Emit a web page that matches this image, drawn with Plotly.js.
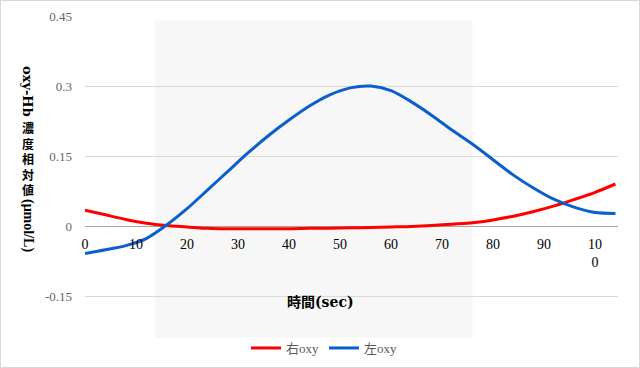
<!DOCTYPE html>
<html><head><meta charset="utf-8">
<script src="https://cdn.plot.ly/plotly-3.0.1.min.js"></script>
<style>
body{margin:0;background:#fff;}
#wrap{position:relative;width:640px;height:368px;}
#frame{position:absolute;left:0;top:0;width:640px;height:368px;box-sizing:border-box;border:1px solid #d9d9d9;pointer-events:none;}
</style>
</head><body>
<div id="wrap"><div id="chart" style="width:640px;height:368px;"></div><div id="frame"></div></div>
<script>
// ---- data ----
const time = [0,4,8,12,16,20,24,28,32,36,40,44,48,52,56,60,64,68,72,76,80,84,88,92,96,100,104];
const rightOxy = [0.034,0.024,0.014,0.006,0.001,-0.002,-0.005,-0.006,-0.006,-0.006,-0.006,-0.005,-0.005,-0.004,-0.003,-0.002,-0.001,0.001,0.004,0.007,0.013,0.021,0.031,0.043,0.057,0.072,0.090];
const leftOxy  = [-0.059,-0.051,-0.042,-0.027,0.002,0.037,0.077,0.117,0.157,0.194,0.227,0.257,0.281,0.296,0.300,0.290,0.266,0.237,0.205,0.175,0.142,0.109,0.081,0.057,0.040,0.029,0.027];
const seriesNames = ['右oxy','左oxy'];
const xTickVals = [0,10,20,30,40,50,60,70,80,90,100];
const xTickText = ['0','10','20','30','40','50','60','70','80','90','10<br>0'];
const yTickVals = [-0.15,0,0.15,0.3,0.45];
const yTickText = ['-0.15','0','0.15','0.3','0.45'];
const shadedPeriod = [13.7, 76];
const xRange = [0, 104.5];
const yRange = [-0.24, 0.45];
const xTitle = '時間(sec)';
const yTitleLatinTop = 'oxy-Hb';
const yTitleCJK = ['濃', '度', '相', '対', '値'];
const yTitleLatinBottom = '(μmol/L)';

// ---- layout helpers ----
const W = 640, H = 368;
const M = {l:85, r:22, t:16, b:30, autoexpand: false};
const PW = W - M.l - M.r, PH = H - M.t - M.b;
const px = x => (x - M.l) / PW;
const py = y => (H - M.b - y) / PH;

const serif = '"Liberation Serif", "DejaVu Serif", "Noto Sans CJK JP", serif';
const cjk = '"Noto Sans CJK JP", sans-serif';

const traces = [
  {x: time, y: rightOxy, name: seriesNames[0], type: 'scatter', mode: 'lines',
   line: {color: '#ff0000', width: 3, shape: 'spline', smoothing: 0.8}},
  {x: time, y: leftOxy, name: seriesNames[1], type: 'scatter', mode: 'lines',
   line: {color: '#0b5fcc', width: 3, shape: 'spline', smoothing: 0.8}}
];

const titleX = px(28);
const annotations = [
  {text: '<b>' + yTitleLatinTop + '</b>', xref: 'paper', yref: 'paper', x: titleX, y: py(91),
   xanchor: 'center', yanchor: 'middle', showarrow: false, textangle: 90, borderpad: 0,
   font: {family: '"DejaVu Serif", serif', size: 13, color: '#000'}},
  {text: '<b>' + yTitleCJK.join('<br>') + '</b>', xref: 'paper', yref: 'paper', x: titleX, y: py(158),
   xanchor: 'center', yanchor: 'middle', showarrow: false, borderpad: 0,
   font: {family: cjk, size: 12, color: '#000'}},
  {text: '<b>' + yTitleLatinBottom + '</b>', xref: 'paper', yref: 'paper', x: titleX, y: py(225),
   xanchor: 'center', yanchor: 'middle', showarrow: false, textangle: 90, borderpad: 0,
   font: {family: '"Liberation Serif", serif', size: 14, color: '#000'}},
  {text: '<b>' + xTitle + '</b>', xref: 'paper', yref: 'paper',
   x: px(320), y: py(302), xanchor: 'center', yanchor: 'middle', showarrow: false,
   font: {family: '"DejaVu Serif", "Noto Sans CJK JP", serif', size: 14, color: '#000'}}
];

const zeroPos = (0 - yRange[0]) / (yRange[1] - yRange[0]);

const layout = {
  width: W, height: H,
  margin: M,
  paper_bgcolor: '#ffffff', plot_bgcolor: 'rgba(0,0,0,0)',
  showlegend: true,
  legend: {orientation: 'h', x: px(324), xanchor: 'center', y: py(348), yanchor: 'middle',
           font: {family: serif, size: 13, color: '#595959'}, bgcolor: 'rgba(0,0,0,0)', traceorder: 'normal'},
  xaxis: {
    range: xRange, tickvals: xTickVals, ticktext: xTickText,
    anchor: 'free', position: zeroPos,
    showgrid: false, zeroline: false, showline: false, ticks: '',
    ticklabelstandoff: 8,
    tickfont: {family: serif, size: 14, color: '#000'}
  },
  yaxis: {
    range: yRange, tickvals: yTickVals, ticktext: yTickText,
    showgrid: true, gridcolor: '#d9d9d9', gridwidth: 1,
    zeroline: true, zerolinecolor: '#a6a6a6', zerolinewidth: 1,
    showline: false, ticks: '', ticklabelstandoff: 12,
    tickfont: {family: serif, size: 13, color: '#666666'}
  },
  shapes: [{
    type: 'rect', xref: 'x', yref: 'y', layer: 'below',
    x0: shadedPeriod[0], x1: shadedPeriod[1], y0: yRange[0], y1: 0.44,
    fillcolor: '#f7f7f7', line: {width: 0}
  }],
  annotations: annotations
};

Plotly.newPlot('chart', traces, layout, {displayModeBar: false, staticPlot: true});
</script>
</body></html>
